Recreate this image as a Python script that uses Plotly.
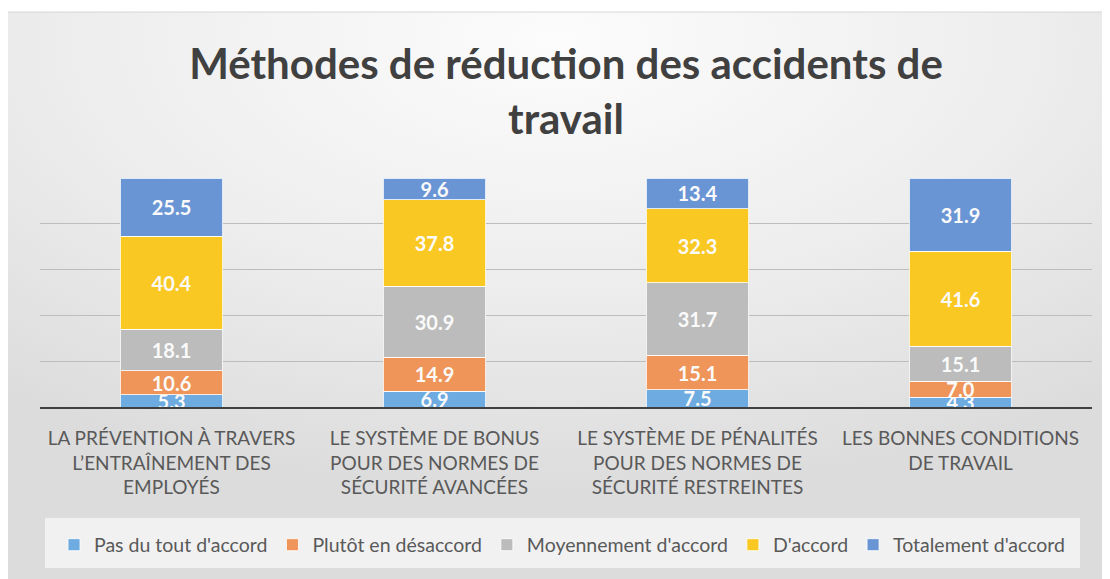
import plotly.graph_objects as go

categories = [
    "LA PRÉVENTION À TRAVERS<br>L’ENTRAÎNEMENT DES<br>EMPLOYÉS",
    "LE SYSTÈME DE BONUS<br>POUR DES NORMES DE<br>SÉCURITÉ AVANCÉES",
    "LE SYSTÈME DE PÉNALITÉS<br>POUR DES NORMES DE<br>SÉCURITÉ RESTREINTES",
    "LES BONNES CONDITIONS<br>DE TRAVAIL",
]
series_names = ["Pas du tout d'accord", "Plutôt en désaccord", "Moyennement d'accord",
                "D'accord", "Totalement d'accord"]
pas_du_tout = [5.3, 6.9, 7.5, 4.3]
plutot_desaccord = [10.6, 14.9, 15.1, 7.0]
moyennement = [18.1, 30.9, 31.7, 15.1]
d_accord = [40.4, 37.8, 32.3, 41.6]
totalement = [25.5, 9.6, 13.4, 31.9]

series_values = [pas_du_tout, plutot_desaccord, moyennement, d_accord, totalement]
colors = ["#6DABE0", "#EF9559", "#BCBCBC", "#FAC823", "#6A95D5"]

FONT = "Lato"
OFF = 8  # page body margin
W, H = 1110 - OFF, 579 - OFF
# target window-pixel positions of the plot area
PX_L, PX_R, PX_T, PX_B = 40, 1092, 178, 407
L, R, T, B = PX_L - OFF, W - (PX_R - OFF), PX_T - OFF, H - (PX_B - OFF)
pw, ph = W - L - R, H - T - B

def px_x(px):
    return (px - PX_L) / pw

def px_y(py):
    return (PX_B - py) / ph

fig = go.Figure()
for name, vals, col in zip(series_names, series_values, colors):
    fig.add_trace(go.Bar(
        x=categories, y=vals, name=name,
        marker=dict(color=col, line=dict(color="rgba(255,255,255,0.8)", width=1)),
        text=[f"{v:.1f}" for v in vals],
        textposition="inside", insidetextanchor="middle", textangle=0,
        textfont=dict(family=FONT, size=20, color="#FAFAFA", weight="bold"),
        hoverinfo="skip",
    ))

svg = ("data:image/svg+xml;utf8,<svg xmlns='http://www.w3.org/2000/svg' width='1106' height='567' "
       "preserveAspectRatio='none' viewBox='0 0 1106 567'>"
       "<defs><radialGradient id='g' cx='0.5' cy='0.05' r='0.8' gradientUnits='objectBoundingBox'>"
       "<stop offset='0' stop-color='%23FCFCFC'/><stop offset='0.55' stop-color='%23EDEDED'/>"
       "<stop offset='1' stop-color='%23DCDCDC'/></radialGradient></defs>"
       "<rect width='1106' height='567' fill='url(%23g)'/></svg>")

fig.update_layout(
    width=W, height=H,
    margin=dict(l=L, r=R, t=T, b=B, autoexpand=False),
    paper_bgcolor="white", plot_bgcolor="rgba(0,0,0,0)",
    barmode="stack", barnorm="percent", bargap=0.61,
    font=dict(family=FONT, color="#595959"),
    title=dict(text="Méthodes de réduction des accidents de<br>travail",
               x=(566 - OFF) / W, xanchor="center", y=1 - (79 - OFF) / H, yanchor="middle",
               xref="container", yref="container",
               font=dict(family=FONT, size=42, color="#404040", weight="bold")),
    uniformtext=dict(minsize=20, mode="show"),
    showlegend=True,
    legend=dict(orientation="h", x=(562 - OFF) / W, xanchor="center",
                y=1 - (545 - OFF) / H, yanchor="middle",
                xref="container", yref="container",
                font=dict(family=FONT, size=19.5, color="#595959"),
                bgcolor="rgba(0,0,0,0)", traceorder="normal", itemwidth=30,
                itemclick=False),
    images=[dict(source=svg, xref="paper", yref="paper", x=px_x(4), y=px_y(12),
                 sizex=(1110 - 4) / pw, sizey=(579 - 12) / ph, xanchor="left", yanchor="top",
                 sizing="stretch", layer="below")],
    shapes=[
        dict(type="rect", xref="paper", yref="paper", x0=px_x(45), x1=px_x(1080),
             y0=px_y(518), y1=px_y(568), fillcolor="rgba(248,248,248,0.75)",
             line=dict(width=0), layer="below"),
        dict(type="rect", xref="paper", yref="paper", x0=px_x(4), x1=px_x(1115),
             y0=px_y(585), y1=px_y(12), fillcolor="rgba(0,0,0,0)",
             line=dict(color="#D6D6D6", width=1), layer="below"),
    ],
)
fig.update_xaxes(showline=True, linecolor="#404040", linewidth=2, ticks="",
                 tickfont=dict(family=FONT, size=19, color="#595959"),
                 ticklabelstandoff=13, showgrid=False, automargin=False)
fig.update_yaxes(range=[0, 100], dtick=20, showticklabels=False, showgrid=True,
                 gridcolor="#BDBDBD", gridwidth=1, zeroline=False, fixedrange=True,
                 automargin=False)

fig.write_html("out.html")
